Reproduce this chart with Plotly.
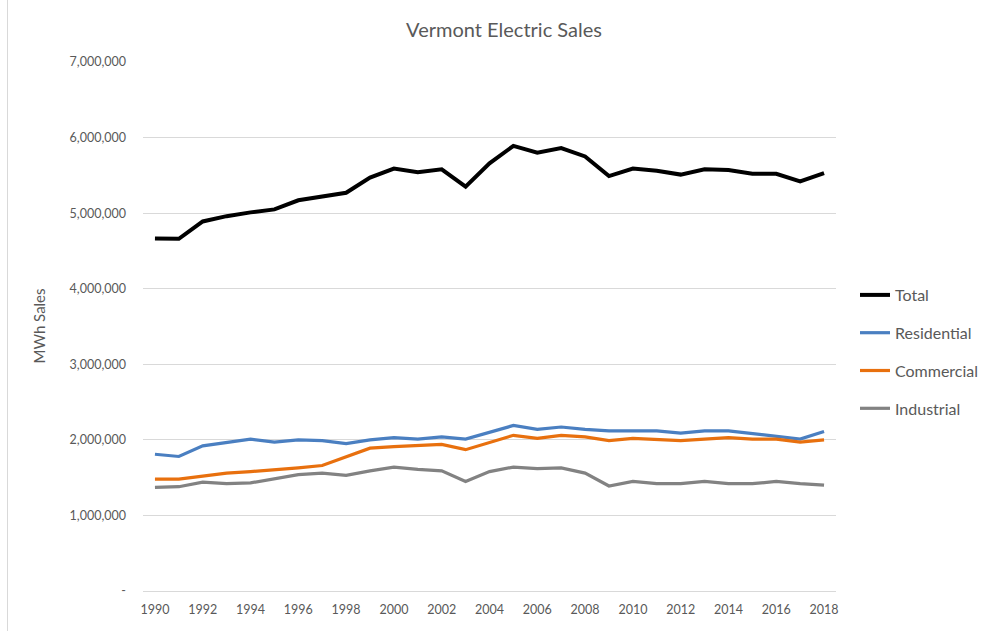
import plotly.graph_objects as go

years = list(range(1990, 2019))
total = [4.665, 4.66, 4.89, 4.96, 5.01, 5.05, 5.17, 5.22, 5.27, 5.47, 5.59, 5.54, 5.58, 5.35, 5.66,
         5.89, 5.80, 5.86, 5.75, 5.49, 5.59, 5.56, 5.51, 5.58, 5.57, 5.52, 5.52, 5.42, 5.53]
residential = [1.81, 1.78, 1.92, 1.97, 2.01, 1.97, 2.00, 1.99, 1.95, 2.00, 2.03, 2.01, 2.04, 2.01, 2.10,
               2.19, 2.14, 2.17, 2.14, 2.12, 2.12, 2.12, 2.09, 2.12, 2.12, 2.08, 2.05, 2.01, 2.11]
commercial = [1.48, 1.48, 1.52, 1.56, 1.58, 1.60, 1.63, 1.66, 1.78, 1.89, 1.91, 1.92, 1.94, 1.87, 1.97,
              2.06, 2.02, 2.06, 2.04, 1.99, 2.02, 2.00, 1.99, 2.01, 2.03, 2.01, 2.01, 1.97, 2.00]
industrial = [1.37, 1.38, 1.44, 1.42, 1.43, 1.49, 1.54, 1.56, 1.53, 1.59, 1.64, 1.61, 1.59, 1.45, 1.58,
              1.64, 1.62, 1.63, 1.56, 1.39, 1.45, 1.42, 1.42, 1.45, 1.42, 1.42, 1.45, 1.42, 1.40]

y_tickvals = [0, 1000000, 2000000, 3000000, 4000000, 5000000, 6000000, 7000000]
y_ticktext = ["-", "1,000,000", "2,000,000", "3,000,000", "4,000,000", "5,000,000", "6,000,000", "7,000,000"]
x_tickvals = list(range(1990, 2019, 2))

series = [
    ("Total", total, "#000000", 4),
    ("Residential", residential, "#4A7FC1", 3.2),
    ("Commercial", commercial, "#E8700E", 3.2),
    ("Industrial", industrial, "#828282", 3.2),
]

FONT = "Lato, 'Open Sans', sans-serif"
fig = go.Figure()
for name, vals, color, w in series:
    fig.add_trace(go.Scatter(
        x=years, y=[v * 1e6 for v in vals], name=name, mode="lines",
        line=dict(color=color, width=w), legendgroup=name,
    ))

W, H = 990, 631
L, R, T, B = 143, 154, 62, 40
pw, ph = W - L - R, H - T - B

fig.update_layout(
    width=W, height=H,
    margin=dict(l=L, r=R, t=T, b=B, autoexpand=False),
    paper_bgcolor="white", plot_bgcolor="white",
    font=dict(family=FONT, color="#595959", size=12),
    title=dict(text="Vermont Electric Sales", x=504 / W, xanchor="center",
               y=1 - 30 / H, yanchor="middle", font=dict(size=20, color="#595959")),
    showlegend=True,
    legend=dict(x=(855 - L) / pw, y=(591 - 278) / ph, xanchor="left", yanchor="top",
                font=dict(size=16, color="#595959"), tracegroupgap=14, itemwidth=30,
                bgcolor="rgba(0,0,0,0)"),
    xaxis=dict(range=[1989.5, 2018.5], tickvals=x_tickvals, ticktext=[str(v) for v in x_tickvals],
               showgrid=False, zeroline=False, showline=False, ticks="",
               ticklabelstandoff=9,
               tickfont=dict(size=12.5, color="#595959"), fixedrange=True),
    yaxis=dict(range=[0, 7000000], tickvals=y_tickvals, ticktext=y_ticktext,
               showgrid=True, gridcolor="#D9D9D9", gridwidth=1, zeroline=True,
               zerolinecolor="#D9D9D9", zerolinewidth=1, showline=False, ticks="",
               ticklabelstandoff=16,
               tickfont=dict(size=12.5, color="#595959"), fixedrange=True),
    annotations=[dict(text="MWh Sales", textangle=-90, x=(38 - L) / pw, xref="paper",
                      y=0.5, yref="paper", showarrow=False, xanchor="center", yanchor="middle",
                      font=dict(size=15, color="#595959"))],
    shapes=[dict(type="line", xref="paper", yref="paper", x0=(7.5 - L) / pw, x1=(7.5 - L) / pw,
                 y0=-1, y1=2, line=dict(color="#D9D9D9", width=1))],
)

fig.write_html("out.html", config={"displayModeBar": False},
               post_script="document.body.style.margin='0';document.body.style.overflow='hidden';")
